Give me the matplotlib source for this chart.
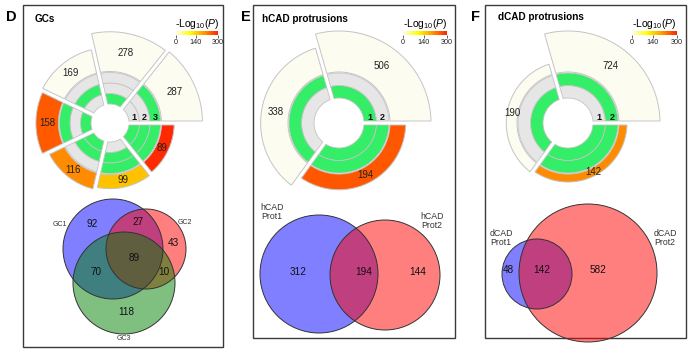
import numpy as np
import matplotlib
matplotlib.use('Agg')
import matplotlib.pyplot as plt
from matplotlib.patches import Polygon, Circle, Rectangle
from matplotlib.colors import LinearSegmentedColormap, Normalize
from matplotlib.cm import ScalarMappable

plt.rcParams['font.family'] = ['Liberation Sans', 'DejaVu Sans']
plt.rcParams['mathtext.fontset'] = 'custom'
plt.rcParams['mathtext.rm'] = 'Liberation Sans'
plt.rcParams['mathtext.it'] = 'Liberation Sans:italic'

W, H = 695, 353

# ---------------- data ----------------
# D: GCs  (membership flags per intersection, size, -log10 P)
gc_members = [(0, 0, 1), (1, 0, 0), (0, 1, 0), (1, 0, 1), (1, 1, 0), (0, 1, 1), (1, 1, 1)]
gc_sizes = [287, 278, 169, 158, 116, 99, 89]
gc_logp = [0, 0, 0, 252, 210, 160, 294]
gc_sets = ['GC1', 'GC2', 'GC3']
gc_regions = ['100', '010', '110', '001', '101', '011', '111']
gc_venn = [92, 43, 27, 118, 70, 10, 89]

# E: hCAD protrusions
hcad_members = [(1, 0), (0, 1), (1, 1)]
hcad_sizes = [506, 338, 194]
hcad_logp = [0, 0, 255]
hcad_sets = ['hCAD\nProt1', 'hCAD\nProt2']
hcad_venn = [312, 144, 194]

# F: dCAD protrusions
dcad_members = [(0, 1), (1, 0), (1, 1)]
dcad_sizes = [724, 190, 142]
dcad_logp = [0, 0, 210]
dcad_sets = ['dCAD\nProt1', 'dCAD\nProt2']
dcad_venn = [48, 582, 142]

cbar_ticks = [0, 140, 300]

# ---------------- style ----------------
cmap = LinearSegmentedColormap.from_list(
    'logp', ['#FDFCF1', '#FFFF00', '#FF9900', '#FF2200'])
norm = Normalize(0, 300)
GREEN = '#33EE66'
GRAY = '#E6E6E6'
EDGE = '#C4C4C4'

fig = plt.figure(figsize=(W / 100, H / 100), dpi=100)
ax = fig.add_axes([0, 0, 1, 1])
ax.set_xlim(0, W)
ax.set_ylim(H, 0)
ax.axis('off')


def ring_sector(cx, cy, r1, r2, a1, a2, gap, **kw):
    # annular sector with a constant-width gap on both radial sides
    def arc(r):
        da = np.degrees(np.arcsin(min(gap / 2 / r, 1)))
        t = np.radians(np.linspace(a1 + da, a2 - da, 80))
        return np.column_stack([cx + r * np.cos(t), cy - r * np.sin(t)])
    pts = np.vstack([arc(r2), arc(r1)[::-1]])
    return Polygon(pts, closed=True, **kw)


def circle_plot(cx, cy, members, sizes, logp, edges, r0, tw, lab_dy=-6):
    n = len(members[0])
    base = r0 + n * tw + 1
    scale = 41 / max(sizes)
    for i in range(len(sizes)):
        a1, a2 = edges[i], edges[i + 1]
        for k in range(n):
            fc = GREEN if members[i][k] else GRAY
            ax.add_patch(ring_sector(cx, cy, r0 + k * tw, r0 + (k + 1) * tw,
                                     a1, a2, 4, fc=fc, ec=EDGE, lw=0.6))
        top = base + sizes[i] * scale
        ax.add_patch(ring_sector(cx, cy, base, top, a1, a2, 4,
                                 fc=cmap(norm(logp[i])), ec=EDGE, lw=0.7))
        am = np.radians((a1 + a2) / 2)
        rm = (base + top) / 2
        ax.text(cx + rm * np.cos(am), cy - rm * np.sin(am), str(sizes[i]),
                ha='center', va='center', fontsize=7, color='#222222')
    for k in range(n):
        ax.text(cx + r0 + (k + 0.5) * tw, cy + lab_dy, str(k + 1), ha='center',
                va='center', fontsize=6.5, fontweight='bold', color='#111111')


def colorbar(x0, x1, y0, y1):
    cax = fig.add_axes([x0 / W, 1 - y1 / H, (x1 - x0) / W, (y1 - y0) / H])
    cb = fig.colorbar(ScalarMappable(norm=norm, cmap=cmap), cax=cax,
                      orientation='horizontal', ticks=cbar_ticks)
    cb.outline.set_visible(False)
    cax.tick_params(length=2, width=0.5, pad=1, labelsize=5.2, colors='#222222')
    ax.text((x0 + x1) / 2, y0 - 7, r'-Log$_{\mathrm{10}}$($\mathit{P}$)',
            ha='center', va='center', fontsize=7.5)


def venn(circles, colors):
    for (cx, cy, r), c in zip(circles, colors):
        ax.add_patch(Circle((cx, cy), r, fc=c, alpha=0.5, ec='none'))
    for cx, cy, r in circles:
        ax.add_patch(Circle((cx, cy), r, fill=False, ec='#333333', lw=0.7))


# panel frames and headings
for (x0, y0, x1, y1) in [(23, 5, 223, 347), (253, 5, 455, 338), (485, 5, 686, 338)]:
    ax.add_patch(Rectangle((x0, y0), x1 - x0, y1 - y0, fill=False,
                           ec='#3a3a3a', lw=1.0))
for letter, x in [('D', 6), ('E', 241), ('F', 471)]:
    ax.text(x, 17, letter, fontsize=10.5, fontweight='bold', va='center')
for title, x, y in [('GCs', 35, 19), ('hCAD protrusions', 262, 19),
                    ('dCAD protrusions', 498, 17)]:
    ax.text(x, y, title, fontsize=7.2, fontweight='bold', va='center')

# ---------------- D ----------------
circle_plot(110, 123, gc_members, gc_sizes, gc_logp,
            np.linspace(0, 360, len(gc_sizes) + 1), 19, 10.5)
colorbar(176, 218, 31, 35)
venn([(113, 249, 50), (146, 249, 40), (124, 283, 51)],
     ['#0000FF', '#FF0000', '#008000'])
gc_pos = {'100': (92, 224), '010': (173, 243), '110': (138, 222),
          '001': (126, 312), '101': (96, 272), '011': (164, 272), '111': (134, 258)}
for reg, v in zip(gc_regions, gc_venn):
    ax.text(*gc_pos[reg], str(v), ha='center', va='center', fontsize=7.2,
            color='#111111')
for s, (x, y) in zip(gc_sets, [(60, 224), (185, 222), (124, 339)]):
    ax.text(x, y, s, ha='center', va='center', fontsize=5, color='#333333')

# ---------------- E ----------------
circle_plot(339, 123, hcad_members, hcad_sizes, hcad_logp, [0, 106, 234, 360], 25, 12.5)
colorbar(403, 447, 31, 35)
venn([(319, 274, 59), (385, 275, 55)], ['#0000FF', '#FF0000'])
for v, x in zip(hcad_venn, [298, 418, 364]):
    ax.text(x, 272, str(v), ha='center', va='center', fontsize=7.2, color='#111111')
for s, (x, y) in zip(hcad_sets, [(272, 212), (432, 221)]):
    ax.text(x, y, s, ha='center', va='center', fontsize=6.3, color='#333333',
            linespacing=1.1)

# ---------------- F ----------------
circle_plot(568, 123, dcad_members, dcad_sizes, dcad_logp, [0, 106, 234, 360], 25, 12.5)
colorbar(632, 677, 31, 35)
venn([(537, 274, 35), (588, 273, 69)], ['#0000FF', '#FF0000'])
for v, x in zip(dcad_venn, [508, 598, 542]):
    ax.text(x, 270, str(v), ha='center', va='center', fontsize=7.2, color='#111111')
for s, (x, y) in zip(dcad_sets, [(501, 238), (665, 238)]):
    ax.text(x, y, s, ha='center', va='center', fontsize=6.3, color='#333333',
            linespacing=1.1)

fig.savefig('out.png', dpi=100)
